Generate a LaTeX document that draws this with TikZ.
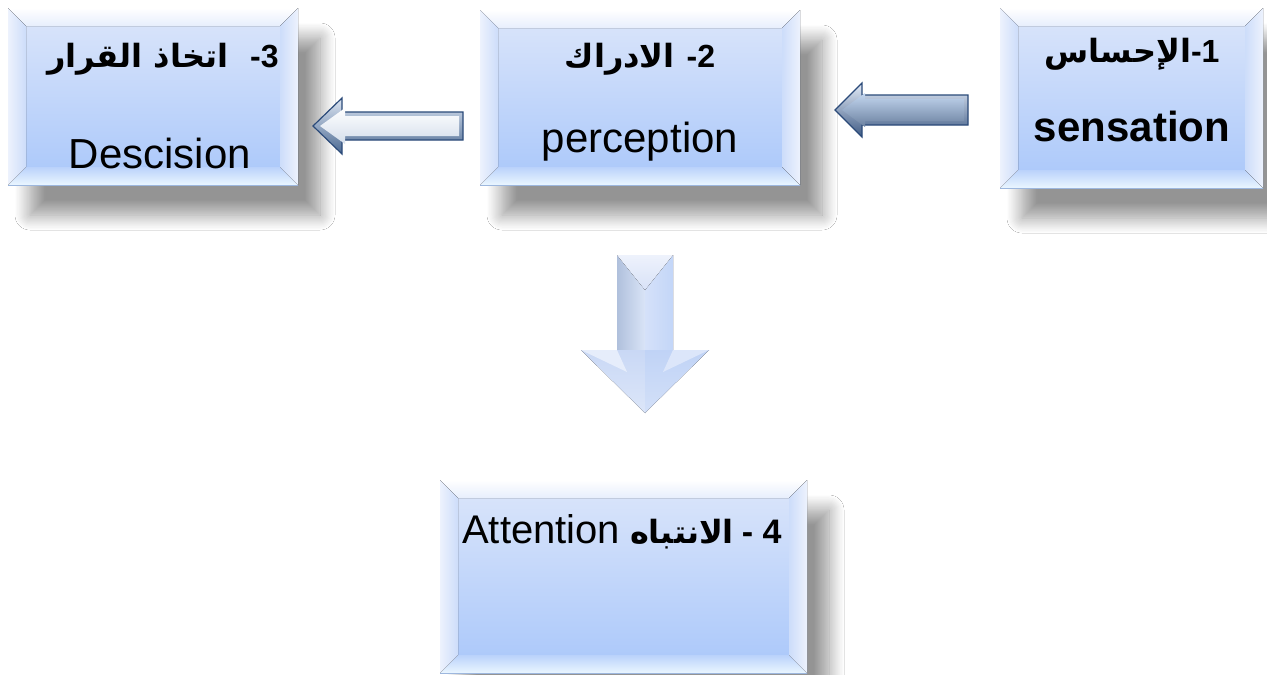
\documentclass[tikz,border=0pt]{standalone}
\usepackage{fontspec}
\setmainfont{Liberation Sans}
\newfontfamily\arabicfont[Script=Arabic]{DejaVu Sans}
\TeXXeTstate=1
\usetikzlibrary{shadows.blur,calc}
\definecolor{bxtop}{HTML}{DCE6FA}
\definecolor{bxbot}{HTML}{A9C7FA}
\definecolor{bvtop}{HTML}{E7EEFC}
\definecolor{bvside}{HTML}{EDF2FD}
\definecolor{bvbot}{HTML}{EAF6FF}
\definecolor{arrline}{HTML}{2B4A79}
\definecolor{ra1}{HTML}{E4ECF8}\definecolor{ra2}{HTML}{3E5A84}
\definecolor{ra3}{HTML}{C4D7F0}\definecolor{ra4}{HTML}{93A8C6}\definecolor{ra5}{HTML}{6A809F}
\definecolor{la1}{HTML}{DDE6F3}\definecolor{la2}{HTML}{4A6891}\definecolor{la3}{HTML}{D3DDEB}
\definecolor{da1}{HTML}{B0C0DC}\definecolor{da2}{HTML}{D9E4F7}\definecolor{da3}{HTML}{D5E1F9}
\definecolor{da4}{HTML}{C3D6F8}\definecolor{da5}{HTML}{EEF2FC}\definecolor{da6}{HTML}{D8E2F7}
\definecolor{da7}{HTML}{C9D8F5}\definecolor{da8}{HTML}{DCE6F9}\definecolor{da9}{HTML}{C0D3F6}
\definecolor{da10}{HTML}{D3E0F8}\definecolor{da11}{HTML}{E6EDFB}\definecolor{da12}{HTML}{DCE6FA}
\newcommand\myblockarrow[7]{%
  \begin{scope}[shift={(#1)}]
    \path[#6] (0,0) -- (#2,-#3) -- (#2,-#4) -- (#5,-#4) -- (#5,#4) -- (#2,#4) -- (#2,#3) -- cycle;
    \path[#7] (7,0) -- ({#2+3},{-#3+10}) -- ({#2+3},{-#4+4}) -- ({#5-4},{-#4+4}) -- ({#5-4},{#4-4}) -- ({#2+3},{#4-4}) -- ({#2+3},{#3-10}) -- cycle;
  \end{scope}}
\tikzset{
  bbox/.style={rectangle, inner sep=0pt, outer sep=0pt,
    top color=bxtop, bottom color=bxbot,
    blur shadow={shadow xshift=22pt, shadow yshift=-30pt, shadow blur radius=15pt, shadow blur steps=14, shadow opacity=42},
    path picture={
      \path (path picture bounding box.north west) coordinate (pNW)
            (path picture bounding box.north east) coordinate (pNE)
            (path picture bounding box.south west) coordinate (pSW)
            (path picture bounding box.south east) coordinate (pSE);
      \fill[top color=white, bottom color=bvtop] (pNW) -- (pNE) -- ($(pNE)+(-18pt,-18pt)$) -- ($(pNW)+(18pt,-18pt)$) -- cycle;
      \fill[top color=bxbot!80!white, bottom color=bvbot] (pSW) -- (pSE) -- ($(pSE)+(-18pt,18pt)$) -- ($(pSW)+(18pt,18pt)$) -- cycle;
      \fill[left color=bvside, right color=bxtop!70!bxbot] (pNW) -- ($(pNW)+(18pt,-18pt)$) -- ($(pSW)+(18pt,18pt)$) -- (pSW) -- cycle;
      \fill[right color=bvside, left color=bxtop!70!bxbot] (pNE) -- ($(pNE)+(-18pt,-18pt)$) -- ($(pSE)+(-18pt,18pt)$) -- (pSE) -- cycle;
    }},
  entxt/.style={font=\fontsize{42}{48}\selectfont, inner sep=0pt},
  headline/.style={font=\fontsize{32}{38}\selectfont, inner sep=0pt, anchor=base},
}
\begin{document}
\begin{tikzpicture}[x=1pt, y=-1pt]
\useasboundingbox (0,0) rectangle (1267,675);
\fill[white] (0,0) rectangle (1267,675);
% boxes
\node[bbox, minimum width=290pt, minimum height=177pt] (b3) at (153,96.5) {};
\node[bbox, minimum width=320pt, minimum height=175pt] (b2) at (640,97.5) {};
\node[bbox, minimum width=263pt, minimum height=180pt] (b1) at (1131.5,98) {};
\node[bbox, minimum width=367pt, minimum height=193pt] (b4) at (623.5,576.5) {};
% texts
\node[headline] (t3a) at (163,67) {{\arabicfont\bfseries\beginR اتخاذ القرار\endR}\hspace{22pt}{\bfseries -3}};
\node[entxt, anchor=base] (t3b) at (160,168) {Descision};
\node[headline] (t2a) at (640,67) {{\arabicfont\bfseries\beginR الادراك\endR}\hspace{12pt}{\bfseries -2}};
\node[entxt, anchor=base] (t2b) at (640,152) {perception};
\node[headline] (t1a) at (1132,62) {{\arabicfont\bfseries\beginR الإحساس\endR}{\bfseries -1}};
\node[entxt, anchor=base, font=\bfseries\fontsize{42}{48}\selectfont] (t1b) at (1132,141) {sensation};
\node[headline, anchor=base west] (t4) at (462,543) {\fontsize{40}{46}\selectfont Attention\hspace{10pt}{\fontsize{32}{38}\selectfont{\arabicfont\bfseries\beginR الانتباه\endR}\hspace{8pt}{\bfseries\fontsize{34}{40}\selectfont - 4}}};
% connector anchors
\coordinate (a12) at (835,110);
\coordinate (a23) at (313,126);
\coordinate (d24) at (645,255);
% arrow sensation -> perception
\myblockarrow{a12}{27}{27}{15}{133}{top color=ra1, bottom color=ra2, draw=arrline, line width=1.2pt}{top color=ra3, middle color=ra4, bottom color=ra5}
% arrow perception -> decision
\myblockarrow{a23}{29}{28}{14}{150}{top color=la1, bottom color=la2, draw=arrline, line width=1.2pt}{top color=white, bottom color=la3}
% down arrow perception -> attention
\begin{scope}[shift={(d24)}]
  \fill[left color=da1, right color=da2] (-28,0) -- (0,35) -- (0,95) -- (-28,95) -- cycle;
  \fill[left color=da3, right color=da4] (0,35) -- (28,0) -- (28,95) -- (0,95) -- cycle;
  \fill[top color=da5, bottom color=da6] (-28,0) -- (28,0) -- (0,35) -- cycle;
  \fill[top color=da7, bottom color=da8] (-64,95) -- (0,95) -- (0,158) -- cycle;
  \fill[top color=da9, bottom color=da10] (0,95) -- (64,95) -- (0,158) -- cycle;
  \fill[da11] (-64,95) -- (-28,95) -- (-18,117) -- cycle;
  \fill[da12] (64,95) -- (28,95) -- (18,117) -- cycle;
\end{scope}
\end{tikzpicture}
\end{document}
